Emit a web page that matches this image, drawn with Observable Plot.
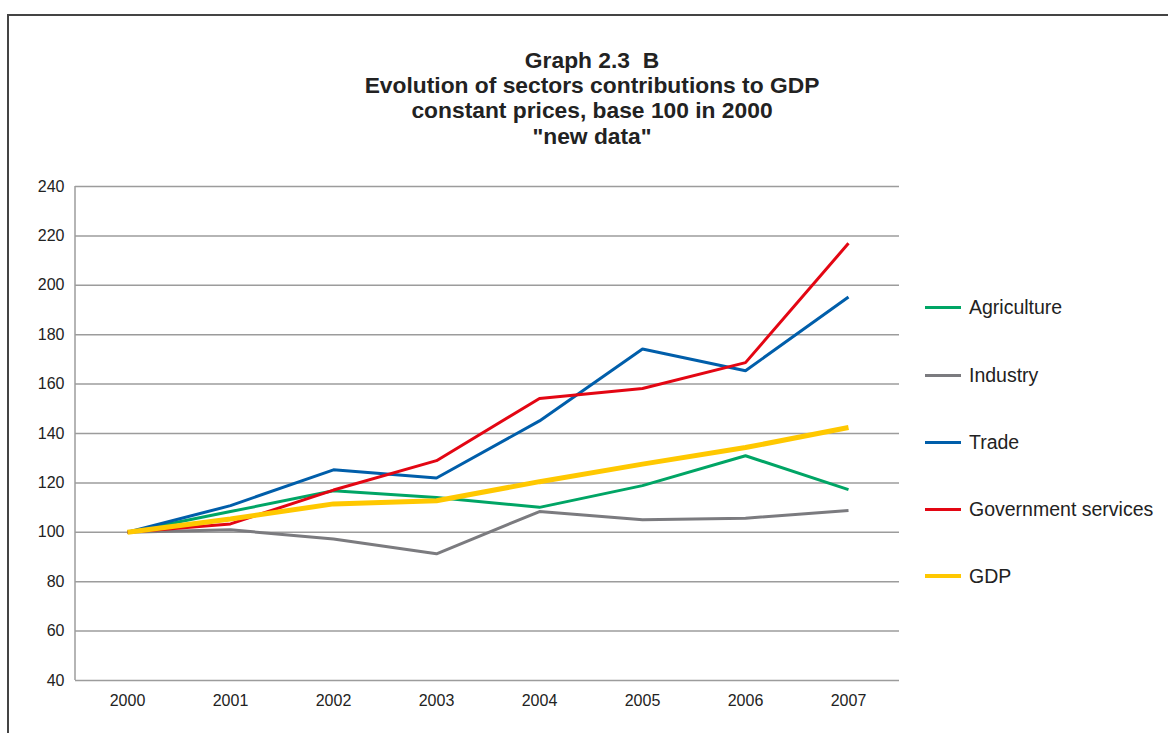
<!DOCTYPE html>
<html>
<head>
<meta charset="utf-8">
<script src="https://cdn.jsdelivr.net/npm/d3@7"></script>
<script src="https://cdn.jsdelivr.net/npm/@observablehq/plot@0.6"></script>
<style>
  html, body { margin: 0; padding: 0; background: #fff; }
  #wrap { position: relative; width: 1168px; height: 733px; overflow: hidden;
          font-family: "Liberation Sans", Arial, sans-serif; color: #222; }
  #border { position: absolute; left: 7px; top: 14px; right: -4px; bottom: -4px;
            border-top: 2px solid #444; border-left: 2px solid #444; }
  #title { position: absolute; left: 592px; top: 48px; transform: translateX(-50%);
           white-space: nowrap; text-align: center; font-weight: bold;
           font-size: 22.8px; line-height: 25.2px; color: #222; }
  #chart { position: absolute; left: 0; top: 0; }
  #legend { position: absolute; left: 925px; top: 0; }
  .item { position: absolute; left: 0; display: flex; align-items: center;
          white-space: nowrap; font-size: 19.5px; height: 24px; }
  .swatch { width: 36px; margin-right: 8px; }
</style>
</head>
<body>
<div id="wrap">
  <div id="border"></div>
  <div id="title"></div>
  <div id="chart"></div>
  <div id="legend"></div>
</div>
<script>
// Years on the horizontal axis
const years = ["2000", "2001", "2002", "2003", "2004", "2005", "2006", "2007"];

// Index values, base 100 in 2000
const agriculture = [100, 108.4, 116.8, 114.1, 110.1, 118.9, 131.0, 117.3];
const industry    = [100, 101.0, 97.3, 91.3, 108.4, 105.1, 105.7, 108.8];
const trade       = [100, 110.8, 125.3, 122.0, 145.1, 174.2, 165.4, 195.3];
const government  = [100, 103.4, 117.1, 129.0, 154.2, 158.2, 168.7, 217.0];
const gdp         = [100, 105.4, 111.5, 112.8, 120.5, 127.6, 134.3, 142.4];

const seriesNames  = ["Agriculture", "Industry", "Trade", "Government services", "GDP"];
const seriesValues = [agriculture, industry, trade, government, gdp];
const seriesColors = ["#00a565", "#7b7b7f", "#005eaa", "#e30613", "#ffc800"];
const seriesWidths = [3, 3, 3, 3, 5];

const yTicks = [40, 60, 80, 100, 120, 140, 160, 180, 200, 220, 240];

const titleLines = ["Graph 2.3  B", "Evolution of sectors contributions to GDP",
                    "constant prices, base 100 in 2000", "\"new data\""];

// Title
document.getElementById("title").innerHTML =
  titleLines.map(t => `<div>${t.replace(/ {2}/g, "&nbsp; ")}</div>`).join("");

// Long-format rows for the line marks
const rows = seriesNames.flatMap((name, i) =>
  years.map((year, j) => ({series: name, year, value: seriesValues[i][j]})));

// Vertical axis line along the left edge of the plotting area
const leftAxisLine = (index, scales, values, dims) =>
  d3.create("svg:line")
    .attr("x1", dims.marginLeft).attr("x2", dims.marginLeft)
    .attr("y1", dims.marginTop).attr("y2", dims.height - dims.marginBottom)
    .attr("stroke", "#9c9c9c").attr("stroke-width", 1.5)
    .node();

const chart = Plot.plot({
  width: 1168,
  height: 733,
  marginLeft: 75,
  marginRight: 269,
  marginTop: 186,
  marginBottom: 53,
  style: {fontFamily: "'Liberation Sans', Arial, sans-serif", fontSize: "16px", color: "#222", background: "transparent"},
  x: {type: "point", domain: years, padding: 0.5, label: null},
  y: {domain: [40, 240], ticks: yTicks, label: null},
  color: {domain: seriesNames, range: seriesColors},
  marks: [
    Plot.gridY(yTicks, {stroke: "#9c9c9c", strokeOpacity: 1, strokeWidth: 1.5}),
    leftAxisLine,
    Plot.axisY(yTicks, {tickSize: 0, tickPadding: 11, fontSize: 16, label: null, fill: "#222"}),
    Plot.axisX({tickSize: 0, tickPadding: 14, fontSize: 16, label: null, fill: "#222"}),
    ...seriesNames.map((name, i) =>
      Plot.line(rows.filter(d => d.series === name), {
        x: "year", y: "value", stroke: "series",
        strokeWidth: seriesWidths[i], strokeLinejoin: "miter", strokeLinecap: "butt"
      }))
  ]
});
document.getElementById("chart").appendChild(chart);

// Legend on the right
const legendTops = [307, 375, 442, 509, 576];
const legend = document.getElementById("legend");
seriesNames.forEach((name, i) => {
  const item = document.createElement("div");
  item.className = "item";
  item.style.top = (legendTops[i] - 12) + "px";
  item.innerHTML = `<div class="swatch" style="height:${seriesWidths[i] === 5 ? 4 : 3}px;background:${seriesColors[i]}"></div><span>${name}</span>`;
  legend.appendChild(item);
});
</script>
</body>
</html>
